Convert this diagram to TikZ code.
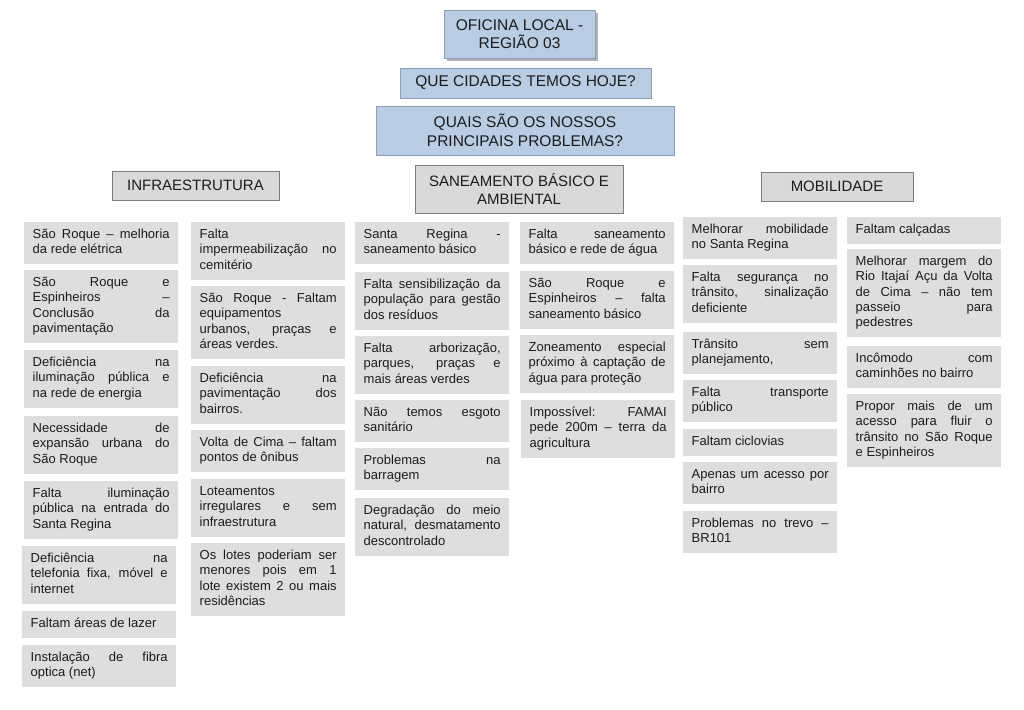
\documentclass[tikz,border=0pt]{standalone}
\usepackage{fontspec}
\setmainfont{Liberation Sans}
\usetikzlibrary{shadows}
\definecolor{HeadBlue}{RGB}{184,204,228}
\definecolor{HeadEdge}{RGB}{138,158,188}
\definecolor{CatGray}{RGB}{217,217,217}
\definecolor{CatEdge}{RGB}{125,125,125}
\definecolor{ItemGray}{RGB}{222,222,222}
\definecolor{InkGray}{RGB}{28,28,28}
\setlength{\parindent}{0pt}
\hyphenpenalty=10000 \exhyphenpenalty=10000 \tolerance=10000 \hbadness=10000 \hfuzz=4pt
\newcommand{\jbr}{\linebreak}

\begin{document}
\begin{tikzpicture}[x=1pt,y=-1pt,
  head/.style={draw=HeadEdge,fill=HeadBlue,align=center,inner sep=0pt,text=InkGray,font=\fontsize{15.5}{18.5}\selectfont},
  cat/.style={draw=CatEdge,fill=CatGray,align=center,inner sep=0pt,text=InkGray,font=\fontsize{15}{18.5}\selectfont},
  itm/.style={fill=ItemGray,anchor=north west,text width=137pt,inner xsep=8.5pt,inner ysep=5.7pt,align=justify,text=InkGray,
    font=\fontsize{13}{15.3}\selectfont,execute at begin node=\strut,execute at end node=\strut}]
\useasboundingbox (0,0) rectangle (1024,709);
% headers
\node[head,minimum width=151pt,minimum height=48pt,drop shadow={shadow xshift=3pt,shadow yshift=-3pt,fill=black,opacity=.3}] (oficina) at (519.5,34){OFICINA LOCAL -\\REGIÃO 03};
\node[head,minimum width=251pt,minimum height=30pt] (cidades) at (525.5,83){QUE CIDADES TEMOS HOJE?};
\node[head,minimum width=298pt,minimum height=49pt] (problemas) at (525,130.5){QUAIS SÃO OS NOSSOS\\PRINCIPAIS PROBLEMAS?};
% categories
\node[cat,minimum width=167pt,minimum height=29pt] (infra) at (195.5,185.5){INFRAESTRUTURA};
\node[cat,minimum width=208pt,minimum height=48pt] (saneam) at (519,189){SANEAMENTO BÁSICO E\\AMBIENTAL};
\node[cat,minimum width=152pt,minimum height=29pt] (mobil) at (837,186.5){MOBILIDADE};
% infraestrutura
\node[itm] (inA1) at (24,222){São Roque – melhoria\jbr da rede elétrica};
\node[itm] (inA2) at (24,270){São Roque e\jbr Espinheiros –\jbr Conclusão da\jbr pavimentação};
\node[itm] (inA3) at (24,350){Deficiência na\jbr iluminação pública e\jbr na rede de energia};
\node[itm] (inA4) at (24,416){Necessidade de\jbr expansão urbana do\jbr São Roque};
\node[itm] (inA5) at (24,481){Falta iluminação\jbr pública na entrada do\jbr Santa Regina};
\node[itm] (inA6) at (22,546){Deficiência na\jbr telefonia fixa, móvel e\jbr internet};
\node[itm] (inA7) at (22,611){Faltam áreas de lazer};
\node[itm] (inA8) at (22,645){Instalação de fibra\jbr optica (net)};
\node[itm] (inB1) at (191,222){Falta\jbr impermeabilização no\jbr cemitério};
\node[itm] (inB2) at (191,286){São Roque - Faltam\jbr equipamentos\jbr urbanos, praças e\jbr áreas verdes.};
\node[itm] (inB3) at (191,366){Deficiência na\jbr pavimentação dos\jbr bairros.};
\node[itm] (inB4) at (191,430){Volta de Cima – faltam\jbr pontos de ônibus};
\node[itm] (inB5) at (191,479){Loteamentos\jbr irregulares e sem\jbr infraestrutura};
\node[itm] (inB6) at (191,543){Os lotes poderiam ser\jbr menores pois em 1\jbr lote existem 2 ou mais\jbr residências};
% saneamento
\node[itm] (saA1) at (355,222){Santa Regina -\jbr saneamento básico};
\node[itm] (saA2) at (355,272){Falta sensibilização da\jbr população para gestão\jbr dos resíduos};
\node[itm] (saA3) at (355,336){Falta arborização,\jbr parques, praças e\jbr mais áreas verdes};
\node[itm] (saA4) at (355,400){Não temos esgoto\jbr sanitário};
\node[itm] (saA5) at (355,448){Problemas na\jbr barragem};
\node[itm] (saA6) at (355,498){Degradação do meio\jbr natural, desmatamento\jbr descontrolado};
\node[itm] (saB1) at (520,222){Falta saneamento\jbr básico e rede de água};
\node[itm] (saB2) at (520,271){São Roque e\jbr Espinheiros – falta\jbr saneamento básico};
\node[itm] (saB3) at (520,335){Zoneamento especial\jbr próximo à captação de\jbr água para proteção};
\node[itm] (saB4) at (521,400){Impossível: FAMAI\jbr pede 200m – terra da\jbr agricultura};
% mobilidade
\node[itm] (moA1) at (683,217){Melhorar mobilidade\jbr no Santa Regina};
\node[itm] (moA2) at (683,265){Falta segurança no\jbr trânsito, sinalização\jbr deficiente};
\node[itm] (moA3) at (683,332){Trânsito sem\jbr planejamento,};
\node[itm] (moA4) at (683,380){Falta transporte\jbr público};
\node[itm] (moA5) at (683,429){Faltam ciclovias};
\node[itm] (moA6) at (683,462){Apenas um acesso por\jbr bairro};
\node[itm] (moA7) at (683,511){Problemas no trevo –\jbr BR101};
\node[itm] (moB1) at (847,217){Faltam calçadas};
\node[itm] (moB2) at (847,249){Melhorar margem do\jbr Rio Itajaí Açu da Volta\jbr de Cima – não tem\jbr passeio para\jbr pedestres};
\node[itm] (moB3) at (847,346){Incômodo com\jbr caminhões no bairro};
\node[itm] (moB4) at (847,394){Propor mais de um\jbr acesso para fluir o\jbr trânsito no São Roque\jbr e Espinheiros};
\end{tikzpicture}
\end{document}
